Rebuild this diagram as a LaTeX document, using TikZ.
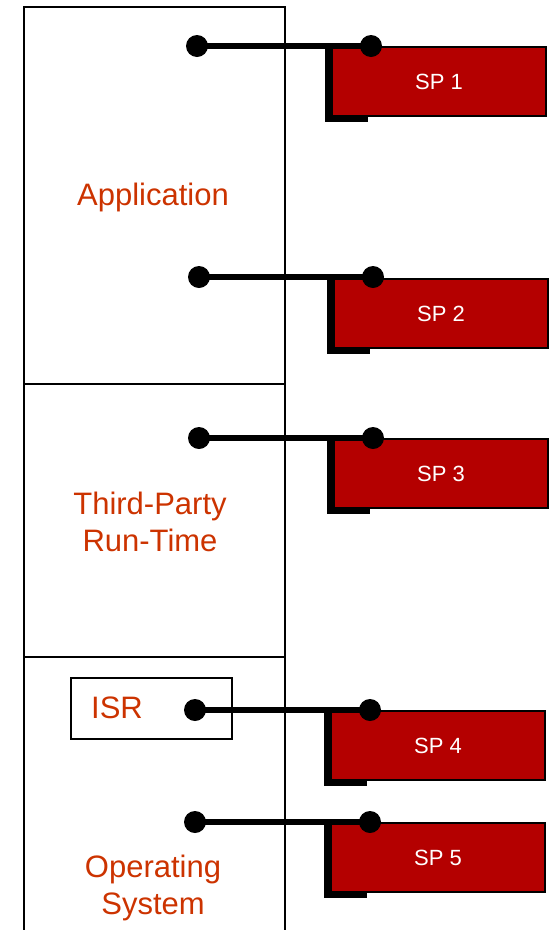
\documentclass[tikz,border=0pt]{standalone}
\usepackage{fontspec}
\setmainfont{Liberation Sans}
\definecolor{labelred}{RGB}{204,51,0}
\definecolor{spred}{RGB}{180,0,0}
\tikzset{
  layer/.style={draw=black, line width=2pt, minimum width=261pt, inner sep=0pt, anchor=north west},
  layertext/.style={text=labelred, font=\fontsize{31}{37}\selectfont, align=center},
  spbox/.style={draw=black, line width=2pt, fill=spred, minimum width=214pt, minimum height=69pt, inner sep=0pt, anchor=north west, text=white, font=\fontsize{22}{26}\selectfont},
  bracket/.style={line width=6pt, line cap=butt, line join=miter},
  conn/.style={line width=6pt},
  blob/.style={circle, fill=black, minimum size=22pt, inner sep=0pt},
  isrbox/.style={draw=black, line width=2pt, minimum width=161pt, minimum height=61pt, inner sep=0pt, anchor=north west}
}
\begin{document}
\begin{tikzpicture}[x=1pt,y=-1pt]
\useasboundingbox (0,0) rectangle (552,930);
% layers
\node[layer, minimum height=377pt] (app) at (23,6) {};
\node[layer, minimum height=273pt] (tpr) at (23,383) {};
\node[layer, minimum height=290pt] (os) at (23,656) {};
\node[layertext] (appt) at (153,197) {Application};
\node[layertext] (tprt) at (150,522) {Third-Party\\Run-Time};
\node[layertext] (ost) at (153,888) {Operating\\System};
\node[isrbox] (isr) at (70,677) {};
\node[layertext, anchor=center] (isrt) at (117,708) {ISR};
% SP boxes
\node[spbox] (sp1) at (331,46) {SP 1};
\node[spbox] (sp2) at (333,278) {SP 2};
\node[spbox] (sp3) at (333,438) {SP 3};
\node[spbox] (sp4) at (330,710) {SP 4};
\node[spbox] (sp5) at (330,822) {SP 5};
% brackets
\foreach \s in {sp1,sp2,sp3,sp4,sp5}{
  \draw[bracket] ([xshift=-3pt]\s.north west) -- ([xshift=-3pt,yshift=-2pt]\s.south west) -- ([xshift=37pt,yshift=-2pt]\s.south west);
}
% dots
\node[blob] (l1) at (197,46) {};
\node[blob] (r1) at (371,46) {};
\node[blob] (l2) at (199,277) {};
\node[blob] (r2) at (373,277) {};
\node[blob] (l3) at (199,438) {};
\node[blob] (r3) at (373,438) {};
\node[blob] (l4) at (195,710) {};
\node[blob] (r4) at (370,710) {};
\node[blob] (l5) at (195,822) {};
\node[blob] (r5) at (370,822) {};
% connectors
\foreach \i in {1,...,5}{
  \draw[conn] (l\i.center) -- (r\i.center);
}
\end{tikzpicture}
\end{document}
